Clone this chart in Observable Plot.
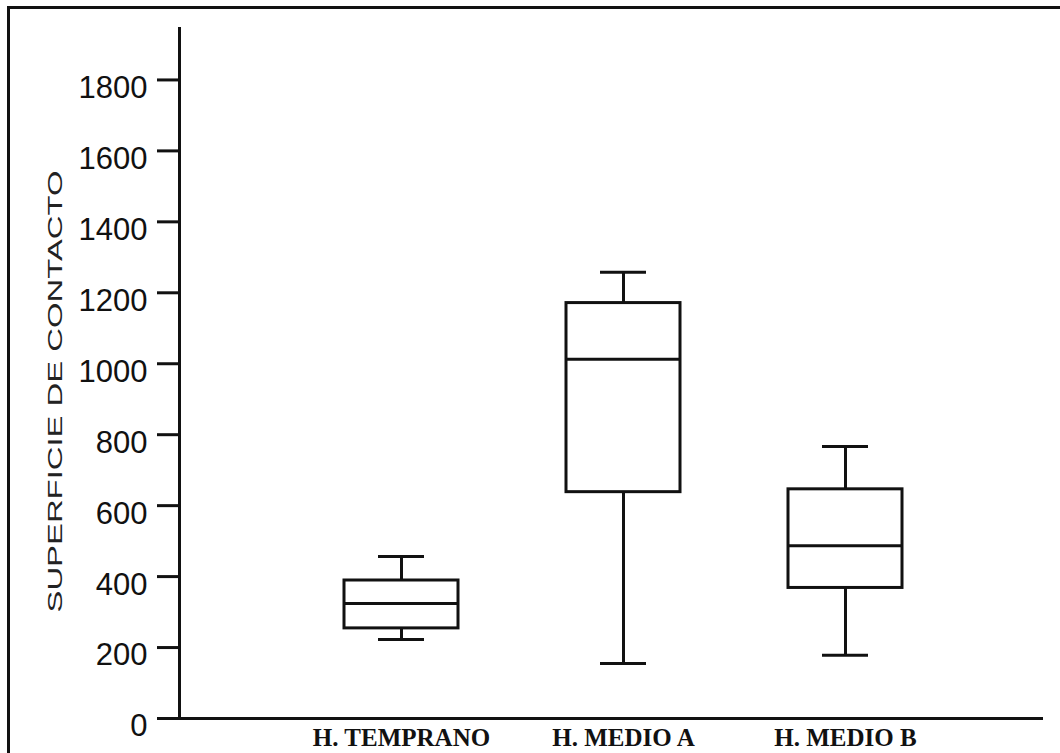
<!DOCTYPE html>
<html>
<head>
<meta charset="utf-8">
<script src="https://cdn.jsdelivr.net/npm/d3@7"></script>
<script src="https://cdn.jsdelivr.net/npm/@observablehq/plot@0.6"></script>
<style>
  html, body { margin: 0; padding: 0; background: white; }
  #wrap { position: relative; width: 1060px; height: 753px; overflow: hidden; }
  #border { position: absolute; left: 7px; top: 6px; width: 1100px; height: 800px;
            border-left: 3px solid #111; border-top: 3px solid #111; pointer-events: none; }
</style>
</head>
<body>
<div id="wrap"><div id="border"></div></div>
<script>
const categories = ["H. TEMPRANO", "H. MEDIO A", "H. MEDIO B"];
const mins    = [223, 155, 178];
const q1s     = [254, 638, 368];
const medians = [324, 1013, 487];
const q3s     = [389, 1171, 646];
const maxs    = [457, 1258, 767];
const yTicks  = [0, 200, 400, 600, 800, 1000, 1200, 1400, 1600, 1800];
const yTitle  = "SUPERFICIE DE CONTACTO";

const rows = categories.map((c, i) => ({
  cat: c, min: mins[i], q1: q1s[i], median: medians[i], q3: q3s[i], max: maxs[i]
}));

const ink = "#111";
const boxInset = 54;
const capInset = 88;

const chart = Plot.plot({
  width: 1060,
  height: 753,
  marginLeft: 179,
  marginRight: 17,
  marginTop: 28,
  marginBottom: 35,
  style: { background: "transparent", color: ink, fontFamily: "Liberation Sans, Arial, sans-serif" },
  x: { domain: categories, range: [289, 956], padding: 0, label: null },
  y: { domain: [0, 1945], label: null },
  marks: [
    Plot.frame({ anchor: "left", stroke: ink, strokeWidth: 3 }),
    Plot.ruleY([0], { stroke: ink, strokeWidth: 3 }),
    Plot.axisY(yTicks, { tickSize: 22, tickFormat: () => "", strokeWidth: 3, stroke: ink, label: null }),
    Plot.axisY(yTicks, { tickSize: 0, tickPadding: 32, dy: 8, fontSize: 31, tickFormat: d => String(d), fill: ink, label: null }),
    Plot.axisX({ tickSize: 0, tickPadding: 10, fontSize: 25, fontFamily: "Liberation Serif, serif", fontWeight: "bold", fill: ink, label: null }),
    // whiskers
    Plot.ruleX(rows, { x: "cat", y1: "q3", y2: "max", stroke: ink, strokeWidth: 3 }),
    Plot.ruleX(rows, { x: "cat", y1: "min", y2: "q1", stroke: ink, strokeWidth: 3 }),
    // caps
    Plot.tickY(rows, { x: "cat", y: "max", insetLeft: capInset, insetRight: capInset, stroke: ink, strokeWidth: 3 }),
    Plot.tickY(rows, { x: "cat", y: "min", insetLeft: capInset, insetRight: capInset, stroke: ink, strokeWidth: 3 }),
    // boxes
    Plot.barY(rows, { x: "cat", y1: "q1", y2: "q3", fill: "white", stroke: ink, strokeWidth: 3, insetLeft: boxInset, insetRight: boxInset }),
    // medians
    Plot.tickY(rows, { x: "cat", y: "median", insetLeft: boxInset, insetRight: boxInset, stroke: ink, strokeWidth: 3 }),
    // y title
    Plot.text([yTitle], { frameAnchor: "left", textAnchor: "middle", rotate: -90, dx: -124, dy: 18, fontSize: 21, fill: "#222", className: "ytitle" })
  ]
});

d3.select(chart).selectAll(".ytitle text")
  .attr("textLength", 442)
  .attr("lengthAdjust", "spacingAndGlyphs");

const wrap = document.getElementById("wrap");
wrap.insertBefore(chart, wrap.firstChild);
chart.style.position = "absolute";
chart.style.left = "0";
chart.style.top = "0";
</script>
</body>
</html>
